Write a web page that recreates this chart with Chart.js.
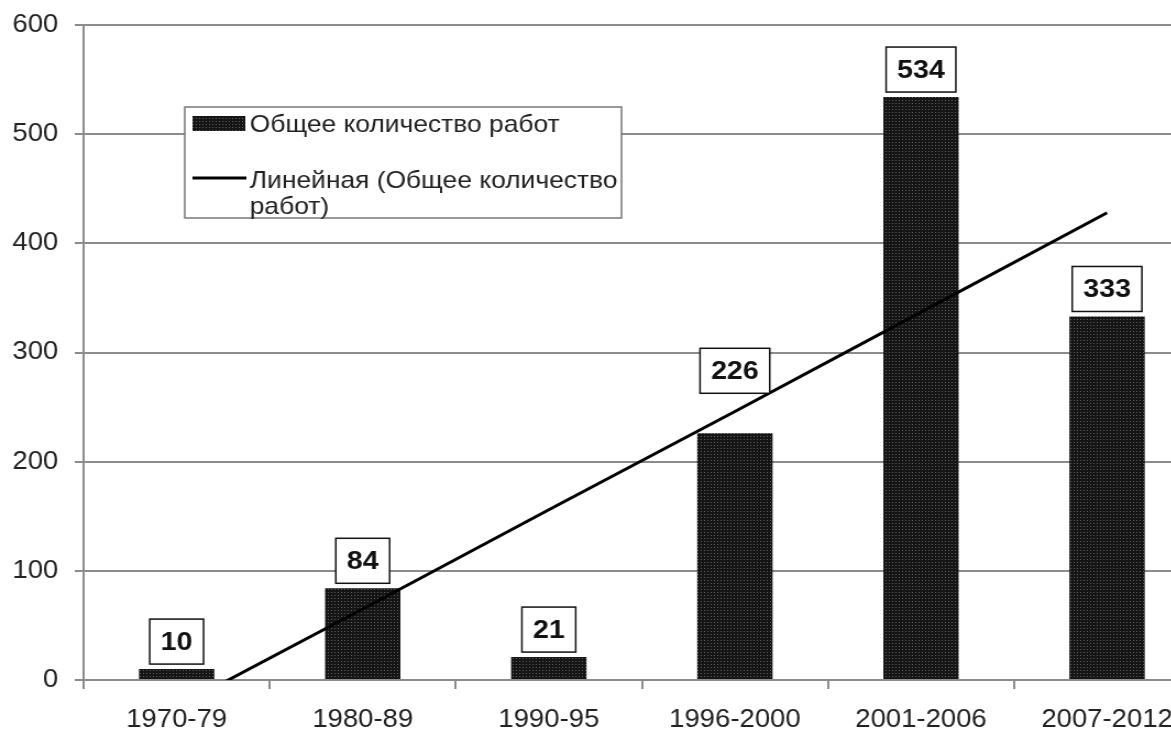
<!DOCTYPE html>
<html>
<head>
<meta charset="utf-8">
<script src="https://cdn.jsdelivr.net/npm/chart.js@4.4.1/dist/chart.umd.min.js"></script>
<style>
html, body { margin: 0; padding: 0; background: #fff; overflow: hidden; }
#wrap { width: 1171px; height: 731px; overflow: hidden; }
/* the source picture is stretched a little sideways */
#chart { transform: scaleX(1.1); transform-origin: 0 0; }
</style>
</head>
<body>
<div id="wrap"><canvas id="chart" width="1100" height="731"></canvas></div>
<script>
var periods = ['1970-79', '1980-89', '1990-95', '1996-2000', '2001-2006', '2007-2012'];
var works = [10, 84, 21, 226, 534, 333];
// linear trend at each period
var trend = [-25, 65, 156, 246, 337, 428];
var yMin = 0, yMax = 600, yStep = 100;
var barName = 'Общее количество работ';
var lineName = ['Линейная (Общее количество', 'работ)'];

var FONT = '"Liberation Sans", Arial, sans-serif';
var GRID = '#8c8c8c';

var canvas = document.getElementById('chart');
var ctx = canvas.getContext('2d');

function dotPattern() {
    var c = document.createElement('canvas');
    c.width = 3; c.height = 3;
    var g = c.getContext('2d');
    g.fillStyle = '#151515';
    g.fillRect(0, 0, 3, 3);
    g.fillStyle = '#5e5e5e';
    g.fillRect(1, 1, 1, 1);
    return ctx.createPattern(c, 'repeat');
}
var barFill = dotPattern();

// boxed value labels over the bars (the 226 one was pushed up off the trend line)
var valueBoxes = {
    id: 'valueBoxes',
    afterDatasetsDraw: function (chart) {
        var c = chart.ctx;
        var meta = chart.getDatasetMeta(1);
        c.save();
        c.font = 'bold 26px ' + FONT;
        c.textAlign = 'center';
        c.textBaseline = 'middle';
        meta.data.forEach(function (bar, i) {
            var txt = String(works[i]);
            var w = c.measureText(txt).width + 20;
            var h = 45;
            var gap = (i == 3) ? 40 : 5;
            var x = bar.x - w / 2;
            var y = bar.y - gap - h;
            c.fillStyle = '#fff';
            c.fillRect(x, y, w, h);
            c.lineWidth = 1.5;
            c.strokeStyle = '#111';
            c.strokeRect(x, y, w, h);
            c.fillStyle = '#111';
            c.fillText(txt, bar.x, y + h / 2 + 1);
        });
        c.restore();
    }
};

// legend box inside the plot, with wrapped second entry
var boxLegend = {
    id: 'boxLegend',
    afterDraw: function (chart) {
        var c = chart.ctx;
        c.save();
        c.fillStyle = '#fff';
        c.fillRect(168, 107, 397, 111);
        c.lineWidth = 1.5;
        c.strokeStyle = '#777';
        c.strokeRect(168, 107, 397, 111);

        c.fillStyle = barFill;
        c.fillRect(175, 116, 48, 15);

        c.beginPath();
        c.moveTo(175, 178);
        c.lineTo(224, 178);
        c.lineWidth = 3;
        c.strokeStyle = '#000';
        c.stroke();

        c.font = '24px ' + FONT;
        c.fillStyle = '#222';
        c.textAlign = 'left';
        c.textBaseline = 'middle';
        c.fillText(barName, 227, 125);
        c.fillText(lineName[0], 227, 181);
        c.fillText(lineName[1], 227, 207);
        c.restore();
    }
};

var chart = new Chart(ctx, {
    data: {
        labels: periods,
        datasets: [{
            type: 'line',
            label: lineName.join(' '),
            data: trend,
            borderColor: '#000',
            borderWidth: 3,
            pointRadius: 0,
            tension: 0,
            fill: false,
            order: 0
        }, {
            type: 'bar',
            label: barName,
            data: works,
            backgroundColor: barFill,
            borderWidth: 0,
            categoryPercentage: 1,
            barPercentage: 0.405,
            order: 1
        }]
    },
    options: {
        responsive: false,
        animation: false,
        events: [],
        layout: { padding: { top: 25, right: 9, left: 0, bottom: 0 } },
        plugins: {
            legend: { display: false },
            tooltip: { enabled: false }
        },
        scales: {
            x: {
                offset: true,
                grid: {
                    offset: true,
                    drawOnChartArea: false,
                    color: GRID,
                    lineWidth: 2,
                    tickLength: 9
                },
                border: { color: GRID, width: 2 },
                ticks: {
                    color: '#222',
                    font: { family: FONT, size: 25 },
                    padding: 16,
                    maxRotation: 0,
                    autoSkip: false
                },
                afterFit: function (s) {
                    s.height = 51;
                    s.paddingLeft = 0;
                    s.paddingRight = 0;
                }
            },
            y: {
                min: yMin,
                max: yMax,
                grid: { color: GRID, lineWidth: 2, tickLength: 8 },
                border: { color: GRID, width: 2 },
                ticks: {
                    stepSize: yStep,
                    color: '#222',
                    font: { family: FONT, size: 25 },
                    padding: 15
                },
                afterFit: function (s) {
                    s.width = 76;
                    s.paddingTop = 0;
                    s.paddingBottom = 0;
                }
            }
        }
    },
    plugins: [valueBoxes, boxLegend]
});
</script>
</body>
</html>
